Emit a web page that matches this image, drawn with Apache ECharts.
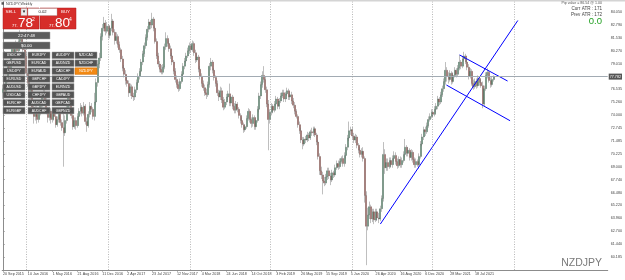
<!DOCTYPE html>
<html><head><meta charset="utf-8">
<script src="https://cdn.jsdelivr.net/npm/echarts@6/dist/echarts.min.js"></script>
<style>html,body{margin:0;padding:0;background:#fff}#c{width:625px;height:280px}</style>
</head><body><div id="c"></div>
<script>
// Weekly NZDJPY candles, week 0 = 20 Sep 2015
const opens=[
76.2,76.6,76.1,77.4,78.9,78.5,79.8,80.6,80.1,80.9,
80.3,81.2,81.9,81.0,80.4,79.8,78.1,77.2,75.9,76.6,
74.8,73.9,74.6,73.6,74.2,74.9,75.7,76.2,75.4,74.5,
73.8,74.4,73.6,74.3,73.9,73.1,73.6,74.2,73.3,72.8,
72.3,73.5,74.7,75.8,75.1,74.0,72.9,73.5,73.0,73.9,
74.4,74.8,74.2,74.9,73.4,73.0,74.1,74.9,74.6,73.9,
75.3,77.2,79.0,79.6,81.7,82.5,83.0,82.2,82.7,81.8,
82.5,83.2,82.1,81.3,81.7,80.9,80.4,79.5,78.6,78.0,
77.4,77.1,76.2,76.8,75.9,75.8,76.5,77.2,77.8,78.3,
79.2,80.0,80.8,81.6,82.4,83.1,82.8,83.4,82.5,81.2,
79.8,79.0,78.5,78.2,78.7,80.7,81.5,81.0,80.5,79.8,
79.2,78.3,77.5,77.0,76.6,77.3,78.0,78.8,79.3,79.8,
80.3,80.8,80.4,81.0,80.1,79.4,79.7,78.5,77.8,77.1,
76.7,76.2,76.0,77.0,78.8,79.2,78.4,77.7,77.1,76.2,
75.8,76.4,75.5,74.8,75.3,75.8,76.1,75.2,75.8,74.9,
74.5,75.1,74.6,74.0,73.5,73.1,72.6,72.9,73.7,74.4,
73.6,73.2,73.8,72.9,73.5,74.6,75.9,77.0,77.9,77.5,
76.5,75.1,73.6,74.3,74.9,74.5,75.1,75.6,74.9,75.4,
75.9,76.2,75.6,76.1,76.4,75.8,76.0,75.4,75.0,74.4,
73.9,73.1,72.5,71.6,71.2,71.7,71.6,72.1,71.8,72.4,
72.3,72.7,72.1,71.4,70.0,68.6,68.2,67.6,67.4,68.0,
68.6,68.1,67.7,68.4,68.2,68.9,69.3,69.0,69.5,69.8,
69.3,70.1,70.9,71.8,72.5,72.6,72.0,71.6,71.9,71.1,
70.6,70.2,70.5,69.8,66.2,63.2,64.3,65.1,63.9,64.6,
63.8,64.6,64.0,63.9,64.9,65.9,70.2,68.9,69.4,69.0,
69.6,69.2,69.8,70.1,69.5,69.1,69.7,69.2,69.6,70.2,
70.9,70.3,70.6,69.9,70.4,69.7,69.2,69.5,69.2,70.0,
71.2,71.9,72.6,72.4,73.0,73.6,73.9,74.3,74.1,74.6,
74.9,75.6,75.3,76.0,76.6,77.3,78.4,77.8,77.5,78.1,
77.3,77.9,78.4,78.0,78.6,79.2,78.8,79.5,79.8,79.2,
78.7,77.8,78.3,77.1,76.8,77.3,76.9,77.6,77.2,76.9,
75.1,76.6,77.9,78.2,77.4,77.0,77.5];
const closes=[
76.6,76.1,77.4,78.9,78.5,79.8,80.6,80.1,80.9,80.3,
81.2,81.9,81.0,80.4,79.8,78.1,77.2,75.9,76.6,74.8,
73.9,74.6,73.6,74.2,74.9,75.7,76.2,75.4,74.5,73.8,
74.4,73.6,74.3,73.9,73.1,73.6,74.2,73.3,72.8,72.3,
73.5,74.7,75.8,75.1,74.0,72.9,73.5,73.0,73.9,74.4,
74.8,74.2,74.9,73.4,73.0,74.1,74.9,74.6,73.9,75.3,
77.2,79.0,79.6,81.7,82.5,83.0,82.2,82.7,81.8,82.5,
83.2,82.1,81.3,81.7,80.9,80.4,79.5,78.6,78.0,77.4,
77.1,76.2,76.8,75.9,75.8,76.5,77.2,77.8,78.3,79.2,
80.0,80.8,81.6,82.4,83.1,82.8,83.4,82.5,81.2,79.8,
79.0,78.5,78.2,78.7,80.7,81.5,81.0,80.5,79.8,79.2,
78.3,77.5,77.0,76.6,77.3,78.0,78.8,79.3,79.8,80.3,
80.8,80.4,81.0,80.1,79.4,79.7,78.5,77.8,77.1,76.7,
76.2,76.0,77.0,78.8,79.2,78.4,77.7,77.1,76.2,75.8,
76.4,75.5,74.8,75.3,75.8,76.1,75.2,75.8,74.9,74.5,
75.1,74.6,74.0,73.5,73.1,72.6,72.9,73.7,74.4,73.6,
73.2,73.8,72.9,73.5,74.6,75.9,77.0,77.9,77.5,76.5,
75.1,73.6,74.3,74.9,74.5,75.1,75.6,74.9,75.4,75.9,
76.2,75.6,76.1,76.4,75.8,76.0,75.4,75.0,74.4,73.9,
73.1,72.5,71.6,71.2,71.7,71.6,72.1,71.8,72.4,72.3,
72.7,72.1,71.4,70.0,68.6,68.2,67.6,67.4,68.0,68.6,
68.1,67.7,68.4,68.2,68.9,69.3,69.0,69.5,69.8,69.3,
70.1,70.9,71.8,72.5,72.6,72.0,71.6,71.9,71.1,70.6,
70.2,70.5,69.8,66.2,63.2,64.3,65.1,63.9,64.6,63.8,
64.6,64.0,63.9,64.9,65.9,70.2,68.9,69.4,69.0,69.6,
69.2,69.8,70.1,69.5,69.1,69.7,69.2,69.6,70.2,70.9,
70.3,70.6,69.9,70.4,69.7,69.2,69.5,69.2,70.0,71.2,
71.9,72.6,72.4,73.0,73.6,73.9,74.3,74.1,74.6,74.9,
75.6,75.3,76.0,76.6,77.3,78.4,77.8,77.5,78.1,77.3,
77.9,78.4,78.0,78.6,79.2,78.8,79.5,79.8,79.2,78.7,
77.8,78.3,77.1,76.8,77.3,76.9,77.6,77.2,76.9,75.1,
76.6,77.9,78.2,77.4,77.0,77.5,77.78];
const lows=[
75.6,75.7,75.9,77.2,77.9,78.2,79.5,79.7,79.8,80.0,
80.0,80.9,80.7,80.1,79.4,77.8,76.8,75.5,75.6,74.5,
73.2,73.5,73.2,73.3,74.0,74.6,75.4,75.1,74.1,73.3,
73.5,73.2,73.3,73.5,72.8,72.9,73.3,73.0,72.5,69.0,
72.0,73.2,74.4,74.8,73.7,72.6,72.7,72.6,72.8,73.6,
74.1,73.9,74.0,73.1,72.4,72.8,73.8,74.3,73.6,73.5,
75.0,76.8,78.6,79.3,81.3,82.2,81.8,82.0,81.5,81.5,
82.2,81.8,80.9,81.0,80.6,80.1,79.2,78.3,77.7,77.0,
76.8,75.8,75.9,75.6,75.4,75.5,76.2,76.9,77.5,78.0,
78.9,79.7,80.5,81.3,82.1,82.4,82.5,82.2,81.0,79.5,
78.7,78.2,78.0,78.0,78.5,80.4,80.7,80.2,79.5,78.9,
78.0,77.2,76.7,76.3,76.4,77.1,77.8,78.5,79.1,79.6,
80.0,80.1,80.2,79.8,79.1,79.2,78.2,77.5,76.8,76.4,
75.9,75.6,75.8,76.7,78.4,78.1,77.4,76.8,75.9,75.4,
75.5,75.2,74.5,74.6,75.0,75.5,74.9,74.9,74.6,74.2,
74.2,74.3,73.7,73.2,72.8,72.3,72.4,72.7,73.5,73.3,
72.8,72.9,72.6,72.6,73.3,74.3,75.6,76.7,77.2,76.2,
74.8,70.6,73.2,74.0,74.2,74.3,74.9,74.6,74.6,75.2,
75.7,75.3,75.3,75.9,75.5,75.5,75.1,74.7,74.1,73.7,
72.8,72.2,71.3,70.7,71.0,71.3,71.4,71.5,71.6,72.0,
72.0,71.9,71.1,69.7,68.2,67.8,66.3,67.1,67.2,67.7,
67.8,67.2,67.5,67.9,68.0,68.7,68.7,68.8,69.3,69.0,
69.0,69.8,70.6,71.5,72.1,71.7,71.3,71.3,70.8,70.3,
69.9,69.9,69.5,65.5,59.4,62.8,63.9,63.5,63.6,63.4,
63.6,63.7,63.5,63.7,64.6,65.6,68.3,68.6,68.6,68.8,
68.9,68.9,69.5,69.2,68.8,68.9,68.9,68.9,69.4,69.9,
70.0,70.0,69.6,69.6,69.4,68.9,68.9,69.0,68.8,69.8,
71.0,71.6,72.0,72.2,72.8,73.4,73.7,73.8,73.9,74.3,
74.6,75.0,75.1,75.8,76.3,77.0,77.3,77.1,77.3,77.0,
77.1,77.7,77.7,77.8,78.4,78.5,78.6,79.3,79.0,78.4,
77.5,77.6,76.9,76.5,76.6,76.6,76.7,76.9,76.7,74.7,
74.9,76.4,77.6,77.2,76.7,76.8,77.3];
const highs=[
77.0,76.9,77.7,79.2,79.3,80.0,81.0,80.9,81.3,81.1,
81.5,82.3,82.1,81.4,80.8,80.2,78.6,77.5,77.0,76.9,
75.2,74.9,74.9,74.5,75.3,76.0,76.8,76.5,75.7,74.8,
74.8,74.7,74.6,74.6,74.3,73.9,74.6,74.4,73.6,74.6,
74.0,75.0,76.3,76.0,75.4,74.3,73.8,73.8,74.2,74.7,
75.2,75.0,75.3,75.1,73.8,74.4,75.3,75.2,74.8,76.2,
77.6,79.4,80.1,82.0,82.9,83.6,83.3,83.1,82.9,82.8,
83.9,83.4,82.4,82.1,81.9,81.2,80.6,79.8,78.9,78.4,
77.9,77.4,77.1,77.0,76.2,76.8,77.5,78.1,78.6,79.5,
80.3,81.1,81.9,82.7,83.4,83.3,84.0,83.6,82.7,81.5,
80.1,79.3,78.9,79.0,81.0,82.1,81.8,81.3,80.8,80.1,
79.4,78.6,77.9,77.3,77.6,78.3,79.1,79.6,80.1,80.6,
81.1,81.0,81.3,81.2,80.4,80.0,79.9,78.8,78.1,77.4,
77.0,76.6,77.3,79.1,79.6,79.4,78.6,77.9,77.4,76.5,
76.8,76.7,75.8,75.6,76.1,76.4,77.1,75.9,76.0,75.2,
75.4,75.3,74.8,74.2,73.8,73.3,73.1,74.0,74.7,74.6,
73.8,74.1,74.0,73.7,74.9,76.2,77.3,78.3,78.8,77.8,
76.8,75.5,74.6,75.2,75.1,75.4,75.9,75.8,75.7,76.2,
76.5,76.5,76.3,76.7,76.6,76.3,76.3,75.7,75.3,74.6,
74.1,73.4,72.8,71.9,71.9,72.0,72.4,72.3,72.6,72.8,
72.9,72.9,72.3,71.6,70.3,69.0,68.5,68.0,68.3,68.9,
68.9,68.4,68.7,68.6,69.2,69.6,69.6,69.8,70.0,70.1,
70.4,71.2,72.1,73.4,72.9,72.9,72.3,72.2,72.1,71.3,
70.9,70.8,70.9,70.0,66.6,65.0,65.6,65.3,64.9,64.9,
64.9,64.9,64.5,65.2,66.2,71.4,70.7,69.8,69.8,69.9,
69.9,70.1,70.5,70.4,69.8,70.0,70.0,69.9,70.5,71.7,
71.1,70.9,70.8,70.7,70.6,69.9,69.8,69.7,70.3,71.5,
72.2,72.9,72.9,73.3,73.9,74.2,74.6,74.5,74.9,75.2,
75.9,75.8,76.3,76.9,77.6,79.2,78.7,78.2,78.4,78.3,
78.2,78.7,78.6,78.9,79.9,79.4,79.8,80.2,80.0,79.5,
79.0,78.6,78.5,77.5,77.6,77.6,77.9,77.8,77.5,77.3,
76.9,78.2,78.6,78.4,77.7,77.8,77.9];

// x-axis tick labels, one every 16 weeks
const dateLabels=['20 Sep 2015','10 Jan 2016','1 May 2016','21 Aug 2016','11 Dec 2016','2 Apr 2017','23 Jul 2017','12 Nov 2017','4 Mar 2018','24 Jun 2018','14 Oct 2018','3 Feb 2019','26 May 2019','15 Sep 2019','5 Jan 2020','26 Apr 2020','16 Aug 2020','6 Dec 2020','28 Mar 2021','18 Jul 2021'];
const labelStep=16;
const slotCount=390;
// price-scale tick labels
const priceTicks=[84.050,82.790,81.530,80.270,79.010,76.535,75.260,74.000,72.745,71.485,70.225,69.000,67.740,66.480,65.220,63.960,62.700,61.440,60.185,58.925];
const bid=77.782;
// year separators (week index)
const yearLines=[15.1,67.8,120.5,172.4,224.9,276.8,329.3];
// drawn trend lines [week, price]
const risingLine=[[243.05,63.41],[331.6,83.25]];
const channelTop=[[294.1,79.89],[325.0,77.35]];
const channelBottom=[[285.6,76.96],[326.6,73.48]];
// panel symbols
const pairCols=[
 ['USDCHF','GBPUSD','USDJPY','EURUSD','AUDUSD','USDCAD','EURCHF','EURGBP'],
 ['EURJPY','EURCAD','EURAUD','GBPCHF','GBPJPY','CHFJPY','AUDCAD','AUDCHF'],
 ['AUDJPY','AUDNZD','CADCHF','CADJPY','EURNZD','GBPAUD','GBPCAD','GBPNZD'],
 ['NZDCAD','NZDCHF','NZDJPY']];
const activePair='NZDJPY';

const candles=closes.map((c,i)=>[opens[i],c,lows[i],highs[i]]);
const cats=Array.from({length:slotCount},(_,i)=>i);
const showLbl=(i)=>i%labelStep===0 && i/labelStep<dateLabels.length;

const FF='Liberation Sans, Arial, sans-serif';
const g=[];
g.push({type:'rect',shape:{x:0,y:0,width:625,height:1.5},style:{fill:'#d4d4d4'},z:100});
g.push({type:'rect',shape:{x:1.5,y:2.2,width:2.5,height:2.5},style:{fill:'#555'},z:100});
g.push({type:'text',x:6,y:3.6,style:{text:'NZDJPY,Weekly',fontSize:3.6,fill:'#444',verticalAlign:'middle',fontFamily:FF},z:100});
// trade panel
g.push({type:'rect',shape:{x:3,y:8,width:36,height:21},style:{fill:'#d62d2a',stroke:'#b01e1e',lineWidth:0.5},z:100});
g.push({type:'rect',shape:{x:40,y:8,width:36,height:21},style:{fill:'#d62d2a',stroke:'#b01e1e',lineWidth:0.5},z:100});
g.push({type:'rect',shape:{x:21,y:8.5,width:6,height:7},style:{fill:'#eeeeee',stroke:'#999',lineWidth:0.4},z:101});
g.push({type:'text',x:24,y:12,style:{text:'▾',fontSize:5,fill:'#222',align:'center',verticalAlign:'middle',fontFamily:'DejaVu Sans'},z:102});
g.push({type:'rect',shape:{x:28,y:8.5,width:29,height:7},style:{fill:'#ffffff',stroke:'#aaa',lineWidth:0.4},z:101});
g.push({type:'text',x:42.5,y:12,style:{text:'0.02',fontSize:4.2,fill:'#222',align:'center',verticalAlign:'middle',fontFamily:FF},z:102});
g.push({type:'text',x:5.5,y:12,style:{text:'SELL',fontSize:4.4,fill:'#fff',verticalAlign:'middle',fontFamily:FF},z:102});
g.push({type:'text',x:61,y:12,style:{text:'BUY',fontSize:4.4,fill:'#fff',verticalAlign:'middle',fontFamily:FF},z:102});
[[12,18,32,'78','2'],[49,55,69,'80','4']].forEach(([sx,bx,ex,big,sup])=>{
  g.push({type:'text',x:sx,y:25.5,style:{text:'77.',fontSize:4,fill:'#fff',verticalAlign:'middle',fontFamily:FF},z:102});
  g.push({type:'text',x:bx,y:23,style:{text:big,fontSize:13.5,fill:'#fff',verticalAlign:'middle',fontFamily:FF},z:102});
  g.push({type:'text',x:ex,y:19.5,style:{text:sup,fontSize:5,fill:'#fff',verticalAlign:'middle',fontFamily:FF},z:102});
});
[[32,'22:47:48'],[42,'$0.00']].forEach(([y,t])=>{
  g.push({type:'rect',shape:{x:3,y:y,width:47,height:7},style:{fill:'#5c5c5c',stroke:'#a0a0a0',lineWidth:0.5},z:100});
  g.push({type:'text',x:26.5,y:y+3.6,style:{text:t,fontSize:4.4,fill:'#fff',align:'center',verticalAlign:'middle',fontFamily:FF},z:101});
});
const colX=[3,28,52,75];
pairCols.forEach((col,ci)=>col.forEach((p,ri)=>{
  const y=52+ri*7.9, on=p===activePair;
  g.push({type:'rect',shape:{x:colX[ci],y:y,width:22,height:6.6},style:{fill:on?'#f28a14':'#545454',stroke:on?'#d06a00':'#9a9a9a',lineWidth:0.5},z:100});
  g.push({type:'text',x:colX[ci]+11,y:y+3.4,style:{text:p,fontSize:3.5,fill:'#fff',align:'center',verticalAlign:'middle',fontFamily:FF},z:101});
}));
// info text top-right
g.push({type:'text',x:602,y:3.4,style:{text:'Pip value = 86.54 @ 1.00',fontSize:3.6,fill:'#555',align:'right',verticalAlign:'middle',fontFamily:FF},z:100});
g.push({type:'text',x:602,y:9,style:{text:'Curr ATR : 171',fontSize:4.6,fill:'#444',align:'right',verticalAlign:'middle',fontFamily:FF},z:100});
g.push({type:'text',x:602,y:14.5,style:{text:'Prev ATR : 172',fontSize:4.6,fill:'#444',align:'right',verticalAlign:'middle',fontFamily:FF},z:100});
g.push({type:'text',x:602,y:21.5,style:{text:'0.0',fontSize:9.5,fill:'#22a022',align:'right',verticalAlign:'middle',fontFamily:FF},z:100});
g.push({type:'text',x:602,y:263.5,style:{text:'NZDJPY',fontSize:10.5,fill:'#7a7a7a',align:'right',verticalAlign:'middle',fontFamily:FF},z:100});

const chart=echarts.init(document.getElementById('c'),null,{renderer:'canvas'});
chart.setOption({
  animation:false,
  backgroundColor:'#ffffff',
  grid:{left:0,right:16,top:1,bottom:10,containLabel:false},
  xAxis:[{type:'category',data:cats,boundaryGap:true,
    axisLine:{show:true,lineStyle:{color:'#8c8c8c',width:1}},
    axisTick:{show:true,alignWithLabel:true,interval:(i)=>showLbl(i),length:2,lineStyle:{color:'#8c8c8c',width:0.6}},
    axisLabel:{interval:(i)=>showLbl(i),formatter:(v)=>dateLabels[v/labelStep]||'',fontSize:3.7,color:'#444',align:'left',margin:2,fontFamily:FF},
    splitLine:{show:false}},
   {type:'value',min:-0.5,max:slotCount-0.5,show:false}],
  yAxis:{type:'value',position:'right',min:58.93,max:85.15,
    axisLine:{show:true,lineStyle:{color:'#8c8c8c',width:1}},
    axisTick:{show:true,customValues:priceTicks,length:2,lineStyle:{color:'#8c8c8c',width:0.6}},
    axisLabel:{customValues:priceTicks,formatter:(v)=>v.toFixed(3),fontSize:3.7,color:'#444',margin:3,fontFamily:FF},
    splitLine:{show:false}},
  graphic:g,
  series:[
    {type:'candlestick',data:candles,barWidth:1.5,barMinWidth:1.5,silent:true,
     itemStyle:{color:'#1c7a48',color0:'#a02418',borderColor:'#6f6f6f',borderColor0:'#6f6f6f',borderWidth:0.45},
     markLine:{silent:true,symbol:'none',animation:false,data:[{yAxis:bid}],
       lineStyle:{color:'#a2abb3',width:1,type:'solid'},
       label:{show:true,position:'end',formatter:bid.toFixed(3),backgroundColor:'#555',color:'#fff',fontSize:3.7,padding:[1,1],distance:1,fontFamily:FF}}},
    {type:'line',xAxisIndex:1,data:[],silent:true,
     markLine:{silent:true,symbol:'none',animation:false,label:{show:false},
       lineStyle:{color:'#9a9a9a',width:0.7,type:[1,1.5]},
       data:yearLines.map(w=>({xAxis:w}))}},
    {type:'line',xAxisIndex:1,data:risingLine,symbol:'none',silent:true,lineStyle:{color:'#0000ff',width:1}},
    {type:'line',xAxisIndex:1,data:channelTop,symbol:'none',silent:true,lineStyle:{color:'#0000ff',width:1}},
    {type:'line',xAxisIndex:1,data:channelBottom,symbol:'none',silent:true,lineStyle:{color:'#0000ff',width:1}}
  ]
});
</script></body></html>
